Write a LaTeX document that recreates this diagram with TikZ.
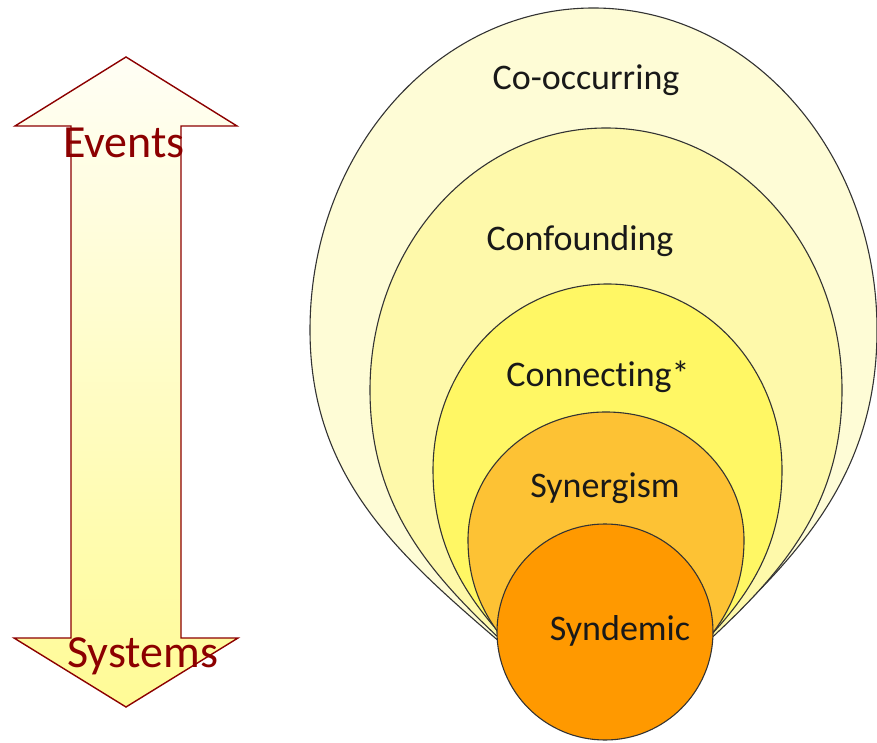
\documentclass[tikz,border=0pt]{standalone}
\usepackage{fontspec}
\setmainfont{Carlito}[RawFeature={-liga}]
\definecolor{arrowred}{RGB}{140,0,0}
\definecolor{arrowtop}{RGB}{255,254,245}
\definecolor{arrowbot}{RGB}{255,251,150}
\definecolor{cooccur}{RGB}{254,252,214}
\definecolor{confound}{RGB}{254,249,170}
\definecolor{connect}{RGB}{255,247,100}
\definecolor{synergy}{RGB}{253,194,52}
\definecolor{syndemic}{RGB}{255,153,0}
\begin{document}
\begin{tikzpicture}[x=1pt,y=1pt]
		\tikzstyle{layer}=[draw=black!80,line width=1.1pt]
		\tikzstyle{ringtext}=[font=\fontsize{36}{40}\selectfont,anchor=base,text=black!90,inner sep=0pt]
		\tikzstyle{arrowtext}=[font=\fontsize{46}{50}\selectfont,anchor=base west,text=arrowred,inner sep=0pt]
		\useasboundingbox (0,0) rectangle (877,742);
		% double arrow
		\path[draw=arrowred,line width=1.4pt,top color=arrowtop,bottom color=arrowbot]
			(126,685) -- (237,616) -- (181,616) -- (181,104) -- (238,104) -- (126,35)
			-- (14,104) -- (71,104) -- (71,616) -- (15,616) -- cycle;
		\node[arrowtext] (events) at (63,584) {Events};
		\node[arrowtext] (systems) at (67,75) {Systems};
		% nested layers
		\coordinate (b) at (605,5);
		\draw[layer,fill=cooccur] (310,412) arc[start angle=180,end angle=0,x radius=283.5,y radius=322]
			to[out=-90,in=45] (b) to[out=135,in=-90] (310,412) -- cycle;
		\draw[layer,fill=confound] (370,352) arc[start angle=180,end angle=0,x radius=236,y radius=262]
			to[out=-90,in=45] (b) to[out=135,in=-90] (370,352) -- cycle;
		\draw[layer,fill=connect] (433,272) arc[start angle=180,end angle=0,x radius=174.5,y radius=186]
			to[out=-90,in=45] (b) to[out=135,in=-90] (433,272) -- cycle;
		\draw[layer,fill=synergy] (468,202) arc[start angle=180,end angle=0,x radius=138,y radius=128]
			to[out=-90,in=45] (b) to[out=135,in=-90] (468,202) -- cycle;
		\draw[layer,fill=syndemic] (605,110) circle[radius=108];
		\node[ringtext] (cooc) at (586,652) {Co-occurring};
		\node[ringtext] (conf) at (580,491) {Confounding};
		\node[ringtext] (conn) at (598,355) {Connecting*};
		\node[ringtext] (syne) at (605,245) {Synergism};
		\node[ringtext] (synd) at (620,102) {Syndemic};
	\end{tikzpicture}
\end{document}
